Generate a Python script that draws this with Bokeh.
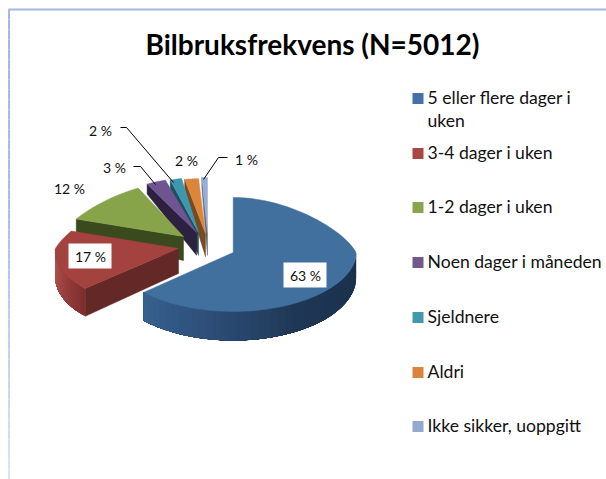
import numpy as np
from bokeh.plotting import figure
from bokeh.models import Range1d
from bokeh.core.properties import value
from bokeh.embed import file_html
from bokeh.resources import INLINE

title = "Bilbruksfrekvens (N=5012)"
categories = ["5 eller flere dager i\nuken", "3-4 dager i uken", "1-2 dager i uken",
              "Noen dager i måneden", "Sjeldnere", "Aldri", "Ikke sikker, uoppgitt"]
shares = [63, 17, 12, 3, 2, 2, 1]

# styles and layout
top_colors = ["#41709f", "#a4423f", "#87a44b", "#6f5492", "#3f97ae", "#dc863c", "#97add4"]
wall_colors = ["#1b2f49", "#642826", "#3a4a1d", "#2c2240", "#1d4f5c", "#7a4a1f", "#5a6a85"]
legend_colors = ["#4472a8", "#aa4643", "#89a54e", "#71588f", "#4198af", "#db843d", "#93a9cf"]
apex = [(232.7, 252), (178, 248), (183, 236), (196, 232), (198, 232), (205, 233), (207, 232)]
back_taper = [0.27, 0.27, 0.27, 0.19, 0.27, 0.10, 0.27]
front_flare = [0.0, 0.06, 0.06, 0.06, 0.06, 0.06, 0.06]
rim_stops = {0: ([90, 150, 190, 227], ["#1b2f49", "#1f3856", "#2d4e78", "#37628f"]),
             1: ([227, 250, 270], ["#7d302e", "#a34643", "#b25a57"])}
legend_y = [98, 153, 207, 262, 317, 372, 426]
label_pos = [(305, 275), (90, 256), (69, 188), (114, 167), (100, 130), (186, 160), (246, 159)]
leaders = {3: [(133, 166), (140, 166), (155, 184)],
           4: [(120, 127), (126, 127), (173, 182)],
           6: [(227, 157), (218, 157), (203, 179)]}
boxed = {0: (283, 262, 326, 287), 1: (68, 243, 111, 268)}
RX, RY = 123.0, 57.0
FONT = "Lato"


def project(i, ang):
    center = apex[i]
    a = np.radians(ang)
    u, s = np.cos(a), np.sin(a)
    scale = np.where(u > 0, 1 - back_taper[i] * u, 1 - front_flare[i] * u)
    return center[0] + RX * s * scale, center[1] - u * (RY - 2 * u)


def depth(y):
    return np.interp(y, [188, 236, 290, 312], [10, 24, 28, 29])


def mix(stops, ang):
    xs, cols = stops
    rgb = [np.interp(ang, xs, [int(c[i:i + 2], 16) for c in cols]) for i in (1, 3, 5)]
    return "#%02x%02x%02x" % tuple(int(v) for v in rgb)


p = figure(width=606, height=479, toolbar_location=None, output_backend="svg",
           x_range=Range1d(0, 606), y_range=Range1d(479, 0), min_border=0,
           outline_line_color=None, background_fill_color="white")
p.xaxis.visible = False
p.yaxis.visible = False
p.grid.visible = False

# frame: top edge and fading left edge
p.line([8, 606], [9, 9], line_color="#a3b9e4", line_width=2)
ys = np.arange(9, 479, 10.0)
p.segment(x0=[8.5] * len(ys), y0=ys, x1=[8.5] * len(ys), y1=ys + 10,
          line_color=[mix(([9, 200, 479], ["#a3b9e4", "#a9bde6", "#dce5f6"]), y) for y in ys],
          line_width=2)

ends = np.cumsum(shares) / sum(shares) * 360
starts = np.concatenate([[0], ends[:-1]])

for i in reversed(range(len(shares))):
    c = apex[i]
    a0, a1 = starts[i], ends[i]
    # radial wall on the start side, for slices in the left half
    if a0 > 180:
        x, y = project(i, a0)
        p.patch([c[0], x, x, c[0]], [c[1], y, y + depth(y), c[1] + depth(c[1])],
                fill_color=wall_colors[i], line_color=wall_colors[i], line_width=0.5)
    # outer rim on the front half: strips overlap so no seams show
    lo, hi = max(a0, 90), min(a1, 270)
    if i in rim_stops and hi > lo:
        grid = np.linspace(lo, hi, 41)
        for g0 in grid[:-1]:
            arc = np.linspace(g0, hi, 30)
            xa, ya = project(i, arc)
            col = mix(rim_stops[i], g0 + (hi - lo) / 80)
            p.patch(np.r_[xa, xa[::-1]], np.r_[ya, (ya + depth(ya))[::-1]],
                    fill_color=col, line_color=None)
    # top face
    arc = np.linspace(a0, a1, 80)
    xa, ya = project(i, arc)
    p.patch(np.r_[c[0], xa], np.r_[c[1], ya], fill_color=top_colors[i],
            line_color=top_colors[i], line_width=0.5)

for pts in leaders.values():
    p.line([q[0] for q in pts], [q[1] for q in pts], line_color="black", line_width=1)

for i, (x0, y0, x1, y1) in boxed.items():
    p.quad(left=[x0], right=[x1], top=[y0], bottom=[y1], fill_color="white", line_color=None)

p.text(x=[q[0] for q in label_pos], y=[q[1] for q in label_pos],
       text=[f"{v} %" for v in shares], text_font=value(FONT), text_font_size="14px",
       text_color="#111111", text_align="center", text_baseline="middle")

p.text(x=[312], y=[43], text=[title], text_font=value(FONT), text_font_style="bold",
       text_font_size="28px", text_color="black", text_align="center", text_baseline="middle")

# legend
p.quad(left=[412] * 7, right=[423] * 7, top=[y - 5.5 for y in legend_y],
       bottom=[y + 5.5 for y in legend_y], fill_color=legend_colors, line_color=None)
lx, ly, lt = [], [], []
for y, name in zip(legend_y, categories):
    for k, part in enumerate(name.split("\n")):
        lx.append(427)
        ly.append(y - 1.5 + 23 * k)
        lt.append(part)
p.text(x=lx, y=ly, text=lt, text_font=value(FONT), text_font_size="17.6px", text_color="#111111",
       text_align="left", text_baseline="middle")

open("out.html", "w").write(file_html(p, INLINE))
